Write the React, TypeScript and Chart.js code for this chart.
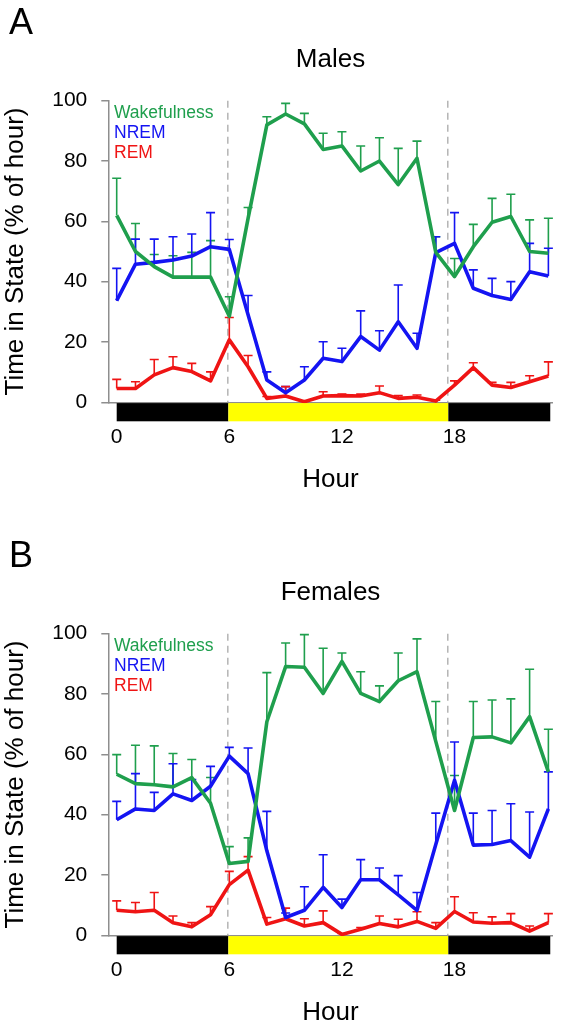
import React, { useEffect, useRef } from "react";
import { Chart, registerables } from "chart.js";

Chart.register(...registerables);

// ---------- data ----------
const HOURS = [0, 1, 2, 3, 4, 5, 6, 7, 8, 9, 10, 11, 12, 13, 14, 15, 16, 17, 18, 19, 20, 21, 22, 23];
const X_TICKS = [0, 6, 12, 18];
const Y_TICKS = [0, 20, 40, 60, 80, 100];

// light schedule: lights on / off boundaries as drawn
const LIGHT_LINES = [5.92, 17.64];
const PHASE_START = [0, 5.95, 17.67];
const PHASE_END = [5.95, 17.67, 23.1];
const PHASE_DARK = [true, false, true];

// Males
const M_WAKE = [62, 50, 45, 41.5, 41.5, 41.5, 28.5, 61, 92, 95.6, 92.3, 83.8, 85, 76.7, 80, 72.2, 80.9, 49.7, 41.7, 51.6, 59.7, 61.6, 50, 49.4];
const M_WAKE_SEM = [12.3, 9.3, 4, 7.1, 8.2, 12.1, 6.5, 3.6, 2.7, 3.5, 3.5, 5.4, 4.7, 8.3, 7.7, 12, 5.7, 5.2, 6, 7.4, 7.9, 7.4, 10.5, 11.6];
const M_NREM = [33.7, 45.8, 46.4, 47.2, 48.5, 51.6, 50.7, 29, 7.4, 3.2, 7.4, 14.6, 13.5, 21.8, 17.3, 26.7, 17.9, 49.6, 52.7, 37.8, 35.4, 34.1, 43.3, 41.9];
const M_NREM_SEM = [10.7, 8.3, 7.7, 7.7, 7.3, 11.3, 3.3, 6.4, 2.7, 2, 4.4, 5.5, 4.4, 8.5, 6.4, 12.2, 5, 5.3, 10.2, 6.1, 5.7, 5.9, 9.4, 9.2];
const M_REM = [4.6, 4.6, 9.1, 11.5, 10.2, 7.1, 20.7, 11.8, 1.3, 2.1, 0.2, 2.1, 2.2, 2.1, 3.2, 1.3, 1.7, 0.4, 5.7, 11.5, 5.7, 4.9, 6.8, 8.7];
const M_REM_SEM = [3, 2.2, 5.1, 3.6, 2.7, 3, 7.4, 3.7, 0.6, 3.1, 0.3, 1.4, 0.5, 0.6, 2.2, 0.9, 0.7, 0.3, 1.4, 1.6, 0.9, 1.7, 2, 4.7];

// Females
const F_WAKE = [53.4, 50.3, 49.9, 49.2, 52.3, 43.8, 23.8, 24.5, 70.8, 89.1, 88.9, 80.2, 90.8, 80.2, 77.5, 84.4, 87.4, 64.3, 41.4, 65.6, 65.8, 63.8, 72.5, 54.2];
const F_WAKE_SEM = [6.5, 12.7, 12.9, 11.1, 6, 8.5, 5.6, 7.8, 16.3, 7.8, 10.8, 15, 2.8, 7.2, 5.2, 9.2, 10.9, 13.2, 11.6, 11.9, 12.2, 14.6, 15.7, 14.1];
const F_NREM = [38.3, 41.9, 41.4, 46.9, 44.7, 49.4, 59.4, 53.6, 28, 5.9, 8.3, 15.9, 9.2, 18.4, 18.4, 13.4, 8.3, 30.1, 51.4, 29.9, 30.1, 31.4, 25.9, 41.9];
const F_NREM_SEM = [6.1, 11.7, 6, 10, 6.9, 6.6, 2.9, 8.5, 13.1, 1.5, 7.8, 10.8, 2.8, 6.7, 3.9, 6.4, 5.9, 10.4, 12.7, 10.6, 11.3, 12.2, 15, 12.3];
const F_REM = [8.3, 7.8, 8.3, 4.2, 2.8, 6.8, 16.8, 21.6, 3.7, 5.5, 3.1, 4.2, 0.3, 2.0, 3.9, 2.8, 4.6, 2.3, 7.9, 4.4, 4.0, 4.2, 1.4, 4.2];
const F_REM_SEM = [3.1, 3.1, 5.9, 2.2, 1.4, 2.7, 4.4, 4.5, 2.2, 3.5, 2.4, 3.9, 0.3, 0.6, 2.5, 2.5, 3.2, 1.9, 4.9, 3.1, 2.1, 3, 1.7, 3];

const SERIES_LABELS = ["Wakefulness", "NREM", "REM"];

// ---------- style ----------
const GREEN = "#1f9f4d";
const BLUE = "#1414f2";
const RED = "#ef1414";
const COLORS = [GREEN, BLUE, RED];
const AXIS_GRAY = "#8e8e8e";
const FONT = "'Liberation Sans', Arial, Helvetica, sans-serif";

const W = 562;
const H = 533;
const X_MIN = -0.4475;
const X_MAX = 23.23;

type Panel = {
  letter: string;
  title: string;
  values: number[][];
  sems: number[][];
};

const PANELS: Panel[] = [
  { letter: "A", title: "Males", values: [M_WAKE, M_NREM, M_REM], sems: [M_WAKE_SEM, M_NREM_SEM, M_REM_SEM] },
  { letter: "B", title: "Females", values: [F_WAKE, F_NREM, F_REM], sems: [F_WAKE_SEM, F_NREM_SEM, F_REM_SEM] },
];

const decorPlugin = {
  id: "decor",
  beforeDatasetsDraw(chart: any) {
    const { ctx, chartArea, scales } = chart;
    const xs = scales.x;
    const ys = scales.y;
    ctx.save();
    // dashed light-transition lines
    ctx.strokeStyle = "#b4b4b4";
    ctx.lineWidth = 1.5;
    ctx.setLineDash([7, 5]);
    for (const t of LIGHT_LINES) {
      const px = xs.getPixelForValue(t);
      ctx.beginPath();
      ctx.moveTo(px, chartArea.top);
      ctx.lineTo(px, chartArea.bottom);
      ctx.stroke();
    }
    ctx.setLineDash([]);
    // error bars (upper only)
    chart.data.datasets.forEach((ds: any, di: number) => {
      const meta = chart.getDatasetMeta(di);
      ctx.strokeStyle = ds.borderColor;
      ctx.lineWidth = 1.6;
      meta.data.forEach((pt: any, i: number) => {
        const v = ds.data[i].y;
        const e = ds.sem[i];
        const top = ys.getPixelForValue(v + e);
        ctx.beginPath();
        ctx.moveTo(pt.x, pt.y);
        ctx.lineTo(pt.x, top);
        ctx.moveTo(pt.x - 4.5, top);
        ctx.lineTo(pt.x + 4.5, top);
        ctx.stroke();
      });
    });
    ctx.restore();
  },
  afterDraw(chart: any) {
    const { ctx, chartArea, scales } = chart;
    const xs = scales.x;
    const opts = chart.options.plugins.decor;
    ctx.save();
    // light/dark bar
    for (let i = 0; i < PHASE_START.length; i++) {
      const x0 = xs.getPixelForValue(PHASE_START[i]);
      const x1 = xs.getPixelForValue(PHASE_END[i]);
      ctx.fillStyle = PHASE_DARK[i] ? "#000000" : "#ffff00";
      ctx.fillRect(x0, chartArea.bottom + 0.8, x1 - x0, 18.2);
    }
    // panel letter
    ctx.fillStyle = "#000";
    ctx.textAlign = "left";
    ctx.textBaseline = "alphabetic";
    ctx.font = `36px ${FONT}`;
    ctx.fillText(opts.letter, 9, 34);
    // title
    ctx.textAlign = "center";
    ctx.textBaseline = "middle";
    ctx.font = `26px ${FONT}`;
    ctx.fillText(opts.title, (chartArea.left + chartArea.right) / 2, 59.5);
    // legend
    ctx.textAlign = "left";
    ctx.font = `17.5px ${FONT}`;
    SERIES_LABELS.forEach((lab, i) => {
      ctx.fillStyle = COLORS[i];
      ctx.fillText(lab, 114, 112.7 + i * 20);
    });
    ctx.restore();
  },
};

function buildConfig(panel: Panel): any {
  const datasets = SERIES_LABELS.map((lab, si) => ({
    label: lab,
    data: HOURS.map((h, i) => ({ x: h, y: panel.values[si][i] })),
    sem: panel.sems[si],
    borderColor: COLORS[si],
    backgroundColor: COLORS[si],
    borderWidth: 3.6,
    pointRadius: 0,
    tension: 0,
    fill: false,
    clip: false,
    borderJoinStyle: "round",
  }));
  return {
    type: "line",
    data: { datasets },
    plugins: [decorPlugin],
    options: {
      animation: false,
      responsive: false,
      devicePixelRatio: 1,
      events: [],
      layout: { padding: { left: 0, right: 9.3, top: 100.7, bottom: 0 } },
      plugins: {
        legend: { display: false },
        tooltip: { enabled: false },
        title: { display: false },
        decor: { letter: panel.letter, title: panel.title },
      },
      scales: {
        x: {
          type: "linear",
          min: X_MIN,
          max: X_MAX,
          afterBuildTicks: (s: any) => {
            s.ticks = X_TICKS.map((v) => ({ value: v }));
          },
          afterFit: (s: any) => {
            s.height = H - 402.3;
          },
          grid: { display: false, drawTicks: false },
          border: { display: true, color: AXIS_GRAY, width: 1.5 },
          ticks: {
            autoSkip: false,
            maxRotation: 0,
            padding: 22.1,
            color: "#000",
            font: { family: FONT, size: 21 },
            callback: (v: any) => String(v),
          },
          title: {
            display: true,
            text: "Hour",
            color: "#000",
            font: { family: FONT, size: 26 },
            padding: { top: 0, bottom: 37.4 },
          },
        },
        y: {
          min: 0,
          max: 100,
          afterBuildTicks: (s: any) => {
            s.ticks = Y_TICKS.map((v) => ({ value: v }));
          },
          afterFit: (s: any) => {
            s.width = 108.3;
          },
          grid: {
            display: true,
            drawOnChartArea: false,
            drawTicks: true,
            tickLength: 7,
            color: AXIS_GRAY,
            lineWidth: 1.5,
          },
          border: { display: true, color: AXIS_GRAY, width: 1.5 },
          ticks: {
            padding: 14,
            color: "#000",
            font: { family: FONT, size: 21 },
            callback: (v: any) => String(v),
          },
          title: {
            display: true,
            text: "Time in State (% of hour)",
            color: "#000",
            font: { family: FONT, size: 26 },
            padding: { top: 0.7, bottom: 0 },
          },
        },
      },
    },
  };
}

function PanelChart({ panel, top }: { panel: Panel; top: number }) {
  const ref = useRef<HTMLCanvasElement | null>(null);
  useEffect(() => {
    if (!ref.current) return;
    const chart = new Chart(ref.current, buildConfig(panel));
    return () => chart.destroy();
  }, [panel]);
  return (
    <canvas
      ref={ref}
      width={W}
      height={H}
      style={{ position: "absolute", left: 0, top, width: W, height: H, display: "block" }}
    />
  );
}

export default function App() {
  return (
    <div
      style={{
        position: "absolute",
        left: 0,
        top: 0,
        width: 562,
        height: 1027,
        overflow: "hidden",
        background: "#ffffff",
      }}
    >
      <PanelChart panel={PANELS[0]} top={0} />
      <PanelChart panel={PANELS[1]} top={533} />
    </div>
  );
}
